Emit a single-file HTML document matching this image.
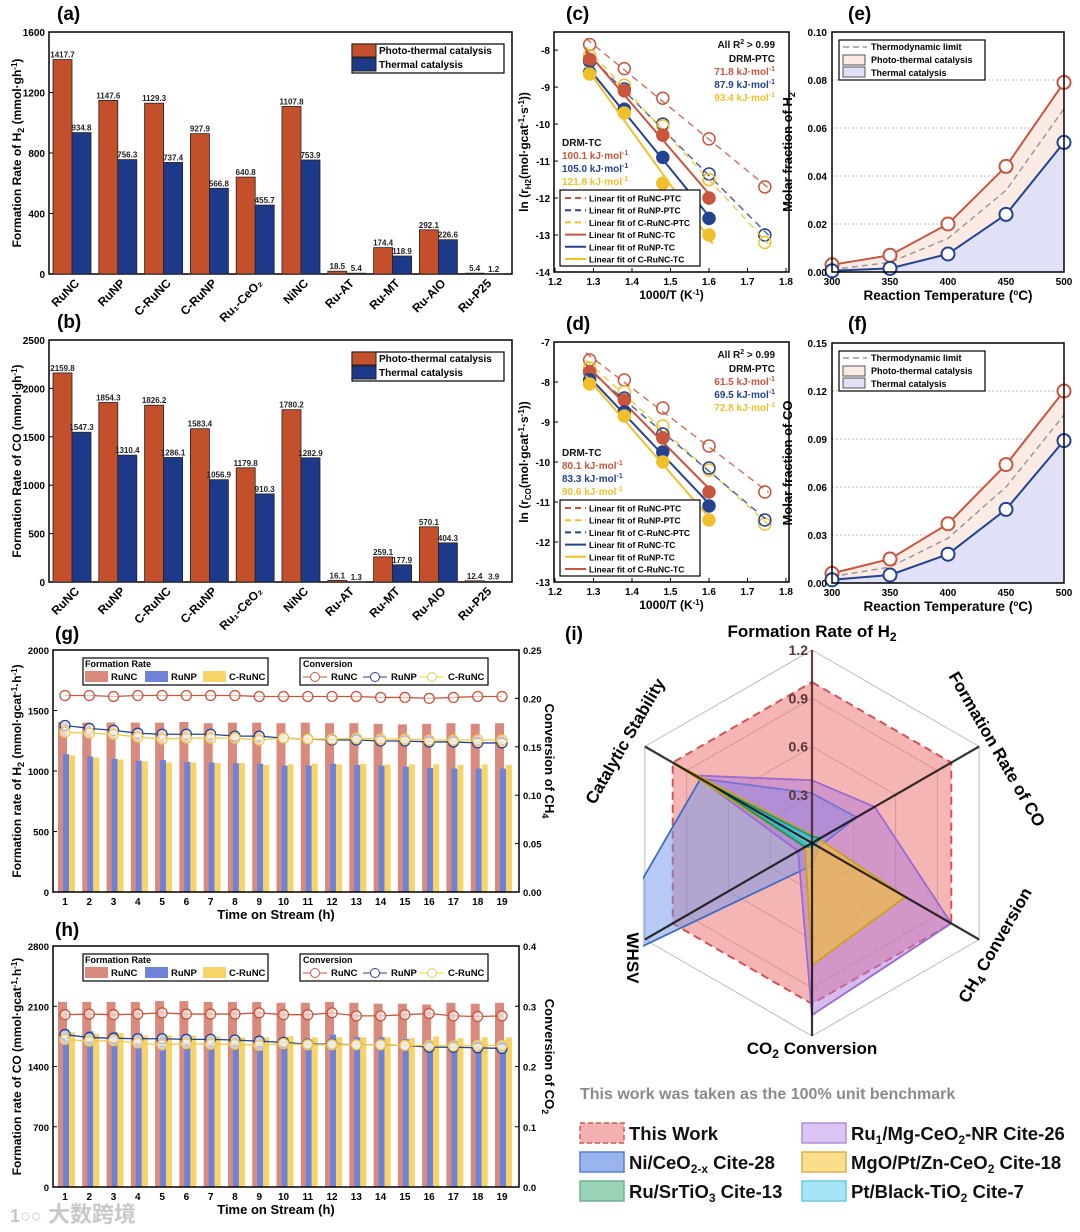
<!DOCTYPE html>
<html><head><meta charset="utf-8">
<style>
html,body{margin:0;padding:0;background:#fff;}
svg{display:block;font-family:"Liberation Sans","Noto Sans CJK SC",sans-serif;font-weight:bold;}
</style></head>
<body>
<svg id="fig" width="1080" height="1232" viewBox="0 0 1080 1232"></svg>
<script>
// ---------- data ----------
const barCats=['RuNC','RuNP','C-RuNC','C-RuNP','Ru₁-CeO₂','NiNC','Ru-AT','Ru-MT','Ru-AlO','Ru-P25'];
const h2Photo=[1417.7,1147.6,1129.3,927.9,640.8,1107.8,18.5,174.4,292.1,5.4];
const h2Thermal=[934.8,756.3,737.4,566.8,455.7,753.9,5.4,118.9,226.6,1.2];
const coPhoto=[2159.8,1854.3,1826.2,1583.4,1179.8,1780.2,16.1,259.1,570.1,12.4];
const coThermal=[1547.3,1310.4,1286.1,1056.9,910.3,1282.9,1.3,177.9,404.3,3.9];
const h2Ticks=[0,400,800,1200,1600];
const coTicks=[0,500,1000,1500,2000,2500];

const arrX=[1.29,1.38,1.48,1.60,1.745];
const cRuNCptc=[-7.85,-8.5,-9.3,-10.4,-11.7];
const cRuNPptc=[-8.3,-9.05,-10.0,-11.35,-13.0];
const cCRuNCptc=[-8.15,-8.95,-10.05,-11.5,-13.2];
const cRuNCtc=[-8.25,-9.1,-10.3,-12.0];
const cRuNPtc=[-8.6,-9.6,-10.9,-12.55];
const cCRuNCtc=[-8.65,-9.7,-11.6,-13.0];
const dRuNCptc=[-7.45,-7.95,-8.65,-9.6,-10.75];
const dRuNPptc=[-7.65,-8.25,-9.1,-10.2,-11.55];
const dCRuNCptc=[-7.75,-8.4,-9.3,-10.15,-11.45];
const dRuNCtc=[-7.75,-8.45,-9.4,-10.75];
const dRuNPtc=[-7.95,-8.75,-9.75,-11.1];
const dCRuNCtc=[-8.05,-8.85,-10.0,-11.45];
const cYTicks=[-8,-9,-10,-11,-12,-13,-14];
const dYTicks=[-7,-8,-9,-10,-11,-12,-13];
const arrXTicks=[1.2,1.3,1.4,1.5,1.6,1.7,1.8];

const temps=[300,350,400,450,500];
const eH2Photo=[0.003,0.007,0.020,0.044,0.079];
const eH2Thermal=[0.0005,0.0015,0.0075,0.024,0.054];
const eH2Limit=[0.001,0.004,0.014,0.034,0.068];
const fCOPhoto=[0.006,0.015,0.037,0.074,0.120];
const fCOThermal=[0.002,0.005,0.018,0.046,0.089];
const fCOLimit=[0.004,0.010,0.028,0.060,0.105];
const eTicks=[0,0.02,0.04,0.06,0.08,0.10];
const fTicks=[0,0.03,0.06,0.09,0.12,0.15];

const hours=[1,2,3,4,5,6,7,8,9,10,11,12,13,14,15,16,17,18,19];
const gRuNC=[1405,1400,1400,1400,1400,1405,1395,1400,1400,1395,1400,1395,1395,1390,1385,1390,1395,1390,1395];
const gRuNP=[1140,1120,1100,1085,1090,1075,1070,1065,1060,1045,1045,1060,1050,1045,1035,1025,1020,1020,1020];
const gCRuNC=[1130,1110,1095,1080,1070,1070,1065,1065,1050,1055,1060,1055,1060,1055,1055,1055,1050,1055,1050];
const gConvRuNC=[0.203,0.203,0.202,0.203,0.203,0.203,0.203,0.203,0.202,0.202,0.202,0.202,0.202,0.201,0.201,0.200,0.201,0.202,0.202];
const gConvRuNP=[0.172,0.169,0.167,0.164,0.163,0.163,0.163,0.161,0.161,0.159,0.158,0.157,0.157,0.156,0.156,0.155,0.155,0.154,0.154];
const gConvCRuNC=[0.165,0.164,0.163,0.160,0.158,0.159,0.159,0.159,0.157,0.159,0.158,0.158,0.159,0.158,0.158,0.157,0.157,0.157,0.157];
const hRuNC=[2150,2150,2150,2150,2160,2160,2150,2150,2150,2140,2140,2150,2140,2130,2130,2120,2140,2130,2140];
const hRuNP=[1830,1810,1800,1780,1760,1760,1750,1740,1730,1740,1710,1770,1740,1740,1720,1700,1700,1680,1690];
const hCRuNC=[1800,1780,1790,1760,1760,1760,1750,1740,1740,1750,1740,1740,1740,1740,1730,1750,1730,1740,1740];
const hConvRuNC=[0.286,0.287,0.286,0.287,0.289,0.287,0.287,0.287,0.289,0.286,0.286,0.289,0.284,0.284,0.286,0.288,0.284,0.283,0.284];
const hConvRuNP=[0.253,0.248,0.247,0.246,0.246,0.245,0.245,0.244,0.242,0.240,0.237,0.237,0.236,0.236,0.235,0.232,0.232,0.231,0.230];
const hConvCRuNC=[0.245,0.242,0.243,0.239,0.236,0.238,0.237,0.237,0.235,0.238,0.236,0.236,0.236,0.236,0.235,0.235,0.234,0.235,0.235];
const gLeftTicks=[0,500,1000,1500,2000];
const gRightTicks=[0,0.05,0.10,0.15,0.20,0.25];
const hLeftTicks=[0,700,1400,2100,2800];
const hRightTicks=[0,0.1,0.2,0.3,0.4];

const radarAxes=['Formation Rate of H₂','Formation Rate of CO','CH₄ Conversion','CO₂ Conversion','WHSV','Catalytic Stability'];
const radarThisWork=[1,1,1,1,1,1];
const radarNiCeO2=[0.31,0.32,0.05,0.14,1.6,0.8];
const radarRuMg=[0.39,0.45,1.0,1.07,0.1,0.84];
const radarMgOPt=[0.05,0.05,0.67,0.76,0.05,1.0];
const radarRuSrTiO3=[0.04,0.06,0.02,0.02,0.05,0.71];
const radarPtTiO2=[0.03,0.04,0.02,0.02,0.03,0.45];
const radarTicks=[0.3,0.6,0.9,1.2];

// ---------- helpers ----------
const NS='http://www.w3.org/2000/svg';
const svg=document.getElementById('fig');
function mk(tag,attrs,parent){const e=document.createElementNS(NS,tag);for(const k in attrs)e.setAttribute(k,attrs[k]);(parent||svg).appendChild(e);return e;}
function tx(x,y,html,attrs,parent){const a=Object.assign({x:x,y:y},attrs||{});const e=mk('text',a,parent);e.innerHTML=html;return e;}
function fmt(v,d){return v.toFixed(d);}

// panel labels
[['(a)',57,20],['(b)',57,328],['(c)',566,20],['(d)',566,330],['(e)',848,20],['(f)',848,330],['(g)',55,640],['(h)',55,936],['(i)',565,640]].forEach(p=>{
  const t=tx(p[1],p[2],p[0],{'font-size':19});
  
  
});

// ---------- bar panels a, b ----------
function barPanel(key,top,bot,ymax,ticks,photo,thermal,ytitle){
  const L=49,R=512;
  const g=mk('g',{});
  
  
  const ys=v=>bot-(v/ymax)*(bot-top);
  const frame=mk('rect',{x:L,y:top,width:R-L,height:bot-top,fill:'none',stroke:'#000','stroke-width':1.5},g);
  
  
  ticks.forEach(t=>{
    const l=tx(L-4,ys(t)+4,String(t),{'font-size':10,'text-anchor':'end'},g);
    
    
    mk('line',{x1:L,x2:L+4,y1:ys(t),y2:ys(t),stroke:'#000'},g);
  });
  const yt=tx(0,0,ytitle,{'font-size':12,'text-anchor':'middle',transform:`translate(21,${(top+bot)/2}) rotate(-90)`},g);
  
  
  const gw=45.8,bw=19;
  barCats.forEach((c,i)=>{
    const x0=53+gw*i;
    const r1=mk('rect',{x:x0,y:ys(photo[i]),width:bw,height:bot-ys(photo[i]),fill:'#c4502b',stroke:'#222','stroke-width':0.8},g);
    
    
    const r2=mk('rect',{x:x0+bw,y:ys(thermal[i]),width:bw,height:bot-ys(thermal[i]),fill:'#1d3a8a',stroke:'#222','stroke-width':0.8},g);
    
    
    const v1=tx(x0+bw/2,ys(photo[i])-2,fmt(photo[i],1),{'font-size':8,'text-anchor':'middle',fill:'#222'},g);
    
    
    const v2=tx(x0+bw*1.5,ys(thermal[i])-2,fmt(thermal[i],1),{'font-size':8,'text-anchor':'middle',fill:'#222'},g);
    
    
    const cl=tx(0,0,c,{'font-size':12,'text-anchor':'end',transform:`translate(${x0+bw+8},${bot+10}) rotate(-45)`},g);
    
    
  });
  const lg=mk('g',{},g);
  
  
  mk('rect',{x:352,y:top+12,width:152,height:29,fill:'#fff',stroke:'#000','stroke-width':1.2},lg);
  mk('rect',{x:352,y:top+12,width:24,height:13,fill:'#c4502b',stroke:'#222'},lg);
  mk('rect',{x:352,y:top+26,width:24,height:13,fill:'#1d3a8a',stroke:'#222'},lg);
  tx(379,top+22,'Photo-thermal catalysis',{'font-size':10},lg);
  tx(379,top+36,'Thermal catalysis',{'font-size':10},lg);
}
barPanel('a',32,274,1600,h2Ticks,h2Photo,h2Thermal,'Formation Rate of H<tspan font-size="9" dy="3">2</tspan><tspan dy="-3"> (mmol·gh</tspan><tspan font-size="8" dy="-4">-1</tspan><tspan dy="4">)</tspan>');
barPanel('b',340,582,2500,coTicks,coPhoto,coThermal,'Formation Rate of CO (mmol·gh<tspan font-size="8" dy="-4">-1</tspan><tspan dy="4">)</tspan>');

// ---------- Arrhenius panels c, d ----------
const RED='#c8553d',BLUE='#23428f',YEL='#f0c02c';
function fitLine(xs,ys){const n=ys.length;let sx=0,sy=0,sxx=0,sxy=0;for(let i=0;i<n;i++){sx+=xs[i];sy+=ys[i];sxx+=xs[i]*xs[i];sxy+=xs[i]*ys[i];}const m=(n*sxy-sx*sy)/(n*sxx-sx*sx);return [m,(sy-m*sx)/n];}
function arrPanel(key,top,bot,yMin,yMax,yticks,series,legend,ytitle,ann){
  const L=554,R=789;
  const xs=v=>555+(v-1.2)*385;
  const ys=v=>bot-(v-yMin)/(yMax-yMin)*(bot-top);
  const g=mk('g',{});
  
  
  const fr=mk('rect',{x:L,y:top,width:R-L,height:bot-top,fill:'none',stroke:'#000','stroke-width':1.5},g);
  
  
  yticks.forEach(t=>{mk('line',{x1:L,x2:L+4,y1:ys(t),y2:ys(t),stroke:'#000'},g);
    const l=tx(L-4,ys(t)+4,String(t),{'font-size':10,'text-anchor':'end'},g);
    
    });
  arrXTicks.forEach(t=>{mk('line',{x1:xs(t),x2:xs(t),y1:bot,y2:bot-4,stroke:'#000'},g);
    const l=tx(xs(t),bot+13,t.toFixed(1),{'font-size':10,'text-anchor':'middle'},g);
    
    });
  const xt=tx((L+R)/2,bot+27,'1000/T (K<tspan font-size="8" dy="-4">-1</tspan><tspan dy="4">)</tspan>',{'font-size':12,'text-anchor':'middle'},g);
  
  
  const yt=tx(0,0,ytitle,{'font-size':12,'text-anchor':'middle',transform:`translate(${L-26},${(top+bot)/2}) rotate(-90)`},g);
  
  
  series.forEach(s=>{
    const xv=arrX.slice(0,s.v.length);
    const [m,b]=fitLine(xv,s.v);
    const x1=xv[0]-0.01,x2=xv[xv.length-1]+0.01;
    const ln=mk('line',{x1:xs(x1),y1:ys(m*x1+b),x2:xs(x2),y2:ys(m*x2+b),stroke:s.c,'stroke-width':s.open?1.5:2,'stroke-dasharray':s.open?'7,5':'none',opacity:s.open?0.8:1},g);
    
    
    s.v.forEach((v,i)=>{
      const p=mk('circle',{cx:xs(xv[i]),cy:ys(v),r:6,fill:s.open?'none':s.c,stroke:s.c,'stroke-width':1.5},g);
      
      
    });
  });
  ann.forEach(a=>{const t=tx(a[0],a[1],a[2],{'font-size':10,fill:a[3],'text-anchor':a[4]||'start'},g);
    
    });
  const lgT=bot-82;
  const lg=mk('g',{},g);
  
  
  mk('rect',{x:560,y:lgT,width:140,height:76,fill:'#fff',stroke:'#000','stroke-width':1.2},lg);
  legend.forEach((e,i)=>{const y=lgT+8+i*12.2;
    mk('line',{x1:565,x2:586,y1:y,y2:y,stroke:e[1],'stroke-width':2,'stroke-dasharray':e[2]?'6,4':'none'},lg);
    tx(589,y+3.5,'Linear fit of '+e[0],{'font-size':8.5},lg);});
}
arrPanel('c',32,272,-14,-7.51,cYTicks,[
  {n:'RuNC-PTC',v:cRuNCptc,c:RED,open:true},{n:'RuNP-PTC',v:cRuNPptc,c:BLUE,open:true},{n:'C-RuNC-PTC',v:cCRuNCptc,c:YEL,open:true},
  {n:'RuNC-TC',v:cRuNCtc,c:RED},{n:'RuNP-TC',v:cRuNPtc,c:BLUE},{n:'C-RuNC-TC',v:cCRuNCtc,c:YEL}],
  [['RuNC-PTC',RED,1],['RuNP-PTC',BLUE,1],['C-RuNC-PTC',YEL,1],['RuNC-TC',RED,0],['RuNP-TC',BLUE,0],['C-RuNC-TC',YEL,0]],
  'ln (r<tspan font-size="8" dy="3">H2</tspan><tspan dy="-3">(mol·gcat</tspan><tspan font-size="8" dy="-4">-1</tspan><tspan dy="4">·s</tspan><tspan font-size="8" dy="-4">-1</tspan><tspan dy="4">))</tspan>',
  [[775,48,'All R<tspan font-size="7" dy="-4">2</tspan><tspan dy="4"> &gt; 0.99</tspan>','#111','end'],[775,62,'DRM-PTC','#111','end'],[775,75,'71.8 kJ·mol<tspan font-size="7" dy="-4">-1</tspan>',RED,'end'],[775,88,'87.9 kJ·mol<tspan font-size="7" dy="-4">-1</tspan>',BLUE,'end'],[775,101,'93.4 kJ·mol<tspan font-size="7" dy="-4">-1</tspan>',YEL,'end'],
   [562,146,'DRM-TC','#111'],[562,159,'100.1 kJ·mol<tspan font-size="7" dy="-4">-1</tspan>',RED],[562,172,'105.0 kJ·mol<tspan font-size="7" dy="-4">-1</tspan>',BLUE],[562,185,'121.8 kJ·mol<tspan font-size="7" dy="-4">-1</tspan>',YEL]]);
arrPanel('d',342,582,-13,-7,dYTicks,[
  {n:'RuNC-PTC',v:dRuNCptc,c:RED,open:true},{n:'RuNP-PTC',v:dRuNPptc,c:YEL,open:true},{n:'C-RuNC-PTC',v:dCRuNCptc,c:BLUE,open:true},
  {n:'RuNC-TC',v:dRuNCtc,c:RED},{n:'RuNP-TC',v:dRuNPtc,c:BLUE},{n:'C-RuNC-TC',v:dCRuNCtc,c:YEL}],
  [['RuNC-PTC',RED,1],['RuNP-PTC',YEL,1],['C-RuNC-PTC',BLUE,1],['RuNC-TC',BLUE,0],['RuNP-TC',YEL,0],['C-RuNC-TC',RED,0]],
  'ln (r<tspan font-size="8" dy="3">CO</tspan><tspan dy="-3">(mol·gcat</tspan><tspan font-size="8" dy="-4">-1</tspan><tspan dy="4">·s</tspan><tspan font-size="8" dy="-4">-1</tspan><tspan dy="4">))</tspan>',
  [[775,358,'All R<tspan font-size="7" dy="-4">2</tspan><tspan dy="4"> &gt; 0.99</tspan>','#111','end'],[775,372,'DRM-PTC','#111','end'],[775,385,'61.5 kJ·mol<tspan font-size="7" dy="-4">-1</tspan>',RED,'end'],[775,398,'69.5 kJ·mol<tspan font-size="7" dy="-4">-1</tspan>',BLUE,'end'],[775,411,'72.8 kJ·mol<tspan font-size="7" dy="-4">-1</tspan>',YEL,'end'],
   [562,456,'DRM-TC','#111'],[562,469,'80.1 kJ·mol<tspan font-size="7" dy="-4">-1</tspan>',RED],[562,482,'83.3 kJ·mol<tspan font-size="7" dy="-4">-1</tspan>',BLUE],[562,495,'90.6 kJ·mol<tspan font-size="7" dy="-4">-1</tspan>',YEL]]);

// ---------- molar fraction panels e, f ----------
function fracPanel(key,top,bot,ymax,ticks,photo,thermal,limit,ytitle,dec){
  const L=832,R=1064;
  const xs=t=>L+(t-300)/200*(R-L);
  const ys=v=>bot-v/ymax*(bot-top);
  const g=mk('g',{});
  
  
  ticks.forEach(t=>{if(t>0&&t<ymax)mk('line',{x1:L,x2:R,y1:ys(t),y2:ys(t),stroke:'#bbb','stroke-dasharray':'2,2'},g);});
  const pts=a=>a.map((v,i)=>xs(temps[i])+','+ys(v)).join(' ');
  const th=mk('polygon',{points:pts(thermal)+` ${R},${bot} ${L},${bot}`,fill:'#e0e1f6'},g);
  
  
  const pa=mk('polygon',{points:pts(photo)+' '+thermal.map((v,i)=>xs(temps[i])+','+ys(v)).reverse().join(' '),fill:'#fcebe5'},g);
  
  
  const lm=mk('polyline',{points:pts(limit),fill:'none',stroke:'#999','stroke-width':1.5,'stroke-dasharray':'6,4'},g);
  
  
  [[photo,RED,'photo'],[thermal,BLUE,'thermal']].forEach(s=>{
    const pl=mk('polyline',{points:pts(s[0]),fill:'none',stroke:s[1],'stroke-width':2},g);
    
    
    s[0].forEach((v,i)=>{const c=mk('circle',{cx:xs(temps[i]),cy:ys(v),r:6.5,fill:'#fff',stroke:s[1],'stroke-width':2},g);
      
      });
  });
  const fr=mk('rect',{x:L,y:top,width:R-L,height:bot-top,fill:'none',stroke:'#000','stroke-width':1.5},g);
  
  
  ticks.forEach(t=>{const l=tx(L-5,ys(t)+4,t.toFixed(dec),{'font-size':10,'text-anchor':'end'},g);
    
    });
  temps.forEach(t=>{const l=tx(xs(t),bot+13,String(t),{'font-size':10,'text-anchor':'middle'},g);
    
    });
  const xt=tx((L+R)/2,bot+28,'Reaction Temperature (<tspan font-size="8" dy="-5">o</tspan><tspan dy="5">C)</tspan>',{'font-size':13.5,'text-anchor':'middle'},g);
  
  
  const yt=tx(0,0,ytitle,{'font-size':13,'text-anchor':'middle',transform:`translate(${L-40},${(top+bot)/2}) rotate(-90)`},g);
  
  
  const lg=mk('g',{},g);
  
  
  const ly=top+8;
  mk('rect',{x:L+7,y:ly,width:146,height:40,fill:'#fff',stroke:'#000','stroke-width':1.2},lg);
  mk('line',{x1:L+11,x2:L+35,y1:ly+7,y2:ly+7,stroke:'#999','stroke-width':1.5,'stroke-dasharray':'6,4'},lg);
  mk('rect',{x:L+11,y:ly+15,width:22,height:10,fill:'#fcebe5',stroke:'#555'},lg);
  mk('rect',{x:L+11,y:ly+27,width:22,height:10,fill:'#e0e1f6',stroke:'#555'},lg);
  tx(L+39,ly+10,'Thermodynamic limit',{'font-size':9},lg);
  tx(L+39,ly+23,'Photo-thermal catalysis',{'font-size':9},lg);
  tx(L+39,ly+36,'Thermal catalysis',{'font-size':9},lg);
}
fracPanel('e',32,272,0.10,eTicks,eH2Photo,eH2Thermal,eH2Limit,'Molar fraction of H<tspan font-size="9" dy="3">2</tspan>',2);
fracPanel('f',343,583,0.15,fTicks,fCOPhoto,fCOThermal,fCOLimit,'Molar fraction of CO',2);

// ---------- stability panels g, h ----------
const SR='#d88a7c',SB='#6e82d8',SY='#f7d468';
function stabPanel(key,top,bot,lmax,rmax,lticks,rticks,r1,r2,r3,c1,c2,c3,ytitle,rtitle,rdec){
  const L=53,R=519;
  const xs=h=>65+(h-1)*(502-65)/18;
  const yl=v=>bot-v/lmax*(bot-top);
  const yr=v=>bot-v/rmax*(bot-top);
  const g=mk('g',{});
  
  
  hours.forEach((h,i)=>{
    const x=xs(h);
    [[r1,SR,x-7,9,'runc'],[r2,SB,x-2,6,'runp'],[r3,SY,x+4,6,'c-runc']].forEach(b=>{
      const r=mk('rect',{x:b[2],y:yl(b[0][i]),width:b[3],height:bot-yl(b[0][i]),fill:b[1]},g);
      
      
    });
  });
  [[c1,'#c8553d','runc'],[c2,'#23428f','runp'],[c3,'#f2c94c','c-runc']].forEach(s=>{
    const pl=mk('polyline',{points:s[0].map((v,i)=>xs(hours[i])+','+yr(v)).join(' '),fill:'none',stroke:s[1],'stroke-width':1.3},g);
    
    
    s[0].forEach((v,i)=>{const c=mk('circle',{cx:xs(hours[i]),cy:yr(v),r:5,fill:'#fff','fill-opacity':0.6,stroke:s[1],'stroke-width':1.3},g);
      
      });
  });
  const fr=mk('rect',{x:L,y:top,width:R-L,height:bot-top,fill:'none',stroke:'#000','stroke-width':1.5},g);
  
  
  lticks.forEach(t=>{mk('line',{x1:L,x2:L+4,y1:yl(t),y2:yl(t),stroke:'#000'},g);
    const l=tx(L-4,yl(t)+4,String(t),{'font-size':9.5,'text-anchor':'end'},g);
    
    });
  rticks.forEach(t=>{mk('line',{x1:R,x2:R-4,y1:yr(t),y2:yr(t),stroke:'#000'},g);
    const l=tx(R+4,yr(t)+4,t.toFixed(rdec),{'font-size':9.5},g);
    
    });
  hours.forEach(h=>{const l=tx(xs(h),bot+13,String(h),{'font-size':10,'text-anchor':'middle'},g);
    
    });
  const xt=tx((L+R)/2-10,bot+27,'Time on Stream (h)',{'font-size':13,'text-anchor':'middle'},g);
  
  
  const yt=tx(0,0,ytitle,{'font-size':12,'text-anchor':'middle',transform:`translate(21,${(top+bot)/2}) rotate(-90)`},g);
  
  
  const rt=tx(0,0,rtitle,{'font-size':13,'text-anchor':'middle',transform:`translate(545,${(top+bot)/2-10}) rotate(90)`},g);
  
  
  const lg=mk('g',{},g);
  
  
  const ly=top+8;
  mk('rect',{x:83,y:ly,width:185,height:27,fill:'#fff',stroke:'#000','stroke-width':1.2},lg);
  tx(85,ly+9,'Formation Rate',{'font-size':9},lg);
  [[SR,'RuNC',85],[SB,'RuNP',145],[SY,'C-RuNC',203]].forEach(e=>{mk('rect',{x:e[2],y:ly+13,width:23,height:11,fill:e[0]},lg);tx(e[2]+26,ly+22,e[1],{'font-size':9.5},lg);});
  const lg2=mk('g',{},g);
  
  
  mk('rect',{x:300,y:ly,width:188,height:27,fill:'#fff',stroke:'#000','stroke-width':1.2},lg2);
  tx(303,ly+9,'Conversion',{'font-size':9},lg2);
  [['#c8553d','RuNC',303],['#23428f','RuNP',363],['#f2c94c','C-RuNC',420]].forEach(e=>{mk('line',{x1:e[2],x2:e[2]+24,y1:ly+19,y2:ly+19,stroke:e[0]},lg2);mk('circle',{cx:e[2]+12,cy:ly+19,r:4.5,fill:'#fff',stroke:e[0]},lg2);tx(e[2]+28,ly+22,e[1],{'font-size':9.5},lg2);});
}
stabPanel('g',650,892,2000,0.25,gLeftTicks,gRightTicks,gRuNC,gRuNP,gCRuNC,gConvRuNC,gConvRuNP,gConvCRuNC,
 'Formation rate of H<tspan font-size="9" dy="3">2</tspan><tspan dy="-3"> (mmol·gcat</tspan><tspan font-size="8" dy="-4">-1</tspan><tspan dy="4">·h</tspan><tspan font-size="8" dy="-4">-1</tspan><tspan dy="4">)</tspan>',
 'Conversion of CH<tspan font-size="9" dy="3">4</tspan>',2);
stabPanel('h',946,1187,2800,0.4,hLeftTicks,hRightTicks,hRuNC,hRuNP,hCRuNC,hConvRuNC,hConvRuNP,hConvCRuNC,
 'Formation rate of CO (mmol·gcat<tspan font-size="8" dy="-4">-1</tspan><tspan dy="4">·h</tspan><tspan font-size="8" dy="-4">-1</tspan><tspan dy="4">)</tspan>',
 'Conversion of CO<tspan font-size="9" dy="3">2</tspan>',1);

// ---------- radar panel i ----------
(function(){
  const cx=812,cy=843,R=193,vmax=1.2;
  const ang=[90,30,-30,-90,-150,150].map(a=>a*Math.PI/180);
  const pt=(v,i)=>[cx+v/vmax*R*Math.cos(ang[i]),cy-v/vmax*R*Math.sin(ang[i])];
  const g=mk('g',{});
  
  
  const defs=mk('defs',{},g);
  const cp=mk('clipPath',{id:'radarclip'},defs);
  mk('rect',{x:643,y:640,width:420,height:420},cp);
  radarTicks.forEach(t=>{
    const gl=mk('polygon',{points:ang.map((a,i)=>pt(t,i).join(',')).join(' '),fill:'none',stroke:'#bbb','stroke-width':1},g);
    
    
  });
  const series=[[radarThisWork,'rgba(238,120,120,0.55)','#d05555','this-work',true],
    [radarNiCeO2,'rgba(110,150,235,0.5)','#3d6cc4','ni-ceo2'],
    [radarRuMg,'rgba(175,120,220,0.5)','#9a6ad0','ru1-mg-ceo2'],
    [radarMgOPt,'rgba(240,190,60,0.65)','#c9a020','mgo-pt-zn-ceo2'],
    [radarRuSrTiO3,'rgba(40,170,140,0.6)','#1f9273','ru-srtio3'],
    [radarPtTiO2,'rgba(100,215,245,0.6)','#38b6d8','pt-black-tio2']];
  series.forEach(s=>{
    const p=mk('polygon',{points:s[0].map((v,i)=>pt(v,i).join(',')).join(' '),fill:s[1],stroke:s[2],'stroke-width':s[4]?2:1.8,'stroke-dasharray':s[4]?'8,5':'none','clip-path':'url(#radarclip)'},g);
    
    
  });
  ang.forEach((a,i)=>{
    const e=pt(vmax,i);
    const ax=mk('line',{x1:cx,y1:cy,x2:e[0],y2:e[1],stroke:i===0?'#4a2020':'#111','stroke-width':2.2,opacity:0.85},g);
    
    
  });
  radarTicks.forEach(t=>{const l=tx(cx-4,cy-t/vmax*R+5,t.toFixed(1),{'font-size':14,'text-anchor':'end',fill:'#5a3535'},g);
    
    });
  const labs=[[812,637,0],[992,752,60],[1000,948,-60],[812,1054,0],[627,958,90],[630,744,-60]];
  const labHtml=['Formation Rate of H<tspan font-size="12" dy="4">2</tspan>','Formation Rate of CO','CH<tspan font-size="12" dy="4">4</tspan><tspan dy="-4"> Conversion</tspan>','CO<tspan font-size="12" dy="4">2</tspan><tspan dy="-4"> Conversion</tspan>','WHSV','Catalytic Stability'];
  labs.forEach((l,i)=>{const t=tx(0,0,labHtml[i],{'font-size':17,'text-anchor':'middle',transform:`translate(${l[0]},${l[1]}) rotate(${l[2]})`},g);
    
    });
  const note=tx(580,1099,'This work was taken as the 100% unit benchmark',{'font-size':16,fill:'#8a8a8a'},g);
  
  
  const lg=mk('g',{},g);
  
  
  const items=[[580,1123,'rgba(240,150,150,0.75)','#d05555','This Work',1],
    [580,1152,'rgba(120,155,235,0.75)','#5a80c8','Ni/CeO<tspan font-size="12" dy="4">2-x</tspan><tspan dy="-4"> Cite-28</tspan>'],
    [580,1181,'rgba(120,195,160,0.75)','#70b090','Ru/SrTiO<tspan font-size="12" dy="4">3</tspan><tspan dy="-4"> Cite-13</tspan>'],
    [802,1123,'rgba(210,180,240,0.8)','#b090d8','Ru<tspan font-size="12" dy="4">1</tspan><tspan dy="-4">/Mg-CeO</tspan><tspan font-size="12" dy="4">2</tspan><tspan dy="-4">-NR Cite-26</tspan>'],
    [802,1152,'rgba(250,215,120,0.85)','#d8b050','MgO/Pt/Zn-CeO<tspan font-size="12" dy="4">2</tspan><tspan dy="-4"> Cite-18</tspan>'],
    [802,1181,'rgba(150,225,245,0.85)','#70c8e0','Pt/Black-TiO<tspan font-size="12" dy="4">2</tspan><tspan dy="-4"> Cite-7</tspan>']];
  items.forEach(it=>{
    const sw=mk('rect',{x:it[0],y:it[1],width:44,height:20,fill:it[2],stroke:it[3],'stroke-width':1.5,'stroke-dasharray':it[5]?'5,3':'none'},lg);
    
    
    const t=tx(it[0]+49,it[1]+17,it[4],{'font-size':18.5,fill:'#111'},lg);
    
    
  });
})();

// watermark
const wm=tx(48,1222,'大数跨境',{'font-size':22,fill:'#c8c8c8','font-family':'"Noto Sans CJK SC",sans-serif'});


const wm2=tx(10,1222,'1○○',{'font-size':18,fill:'#c8c8c8'});


</script>
</body></html>
